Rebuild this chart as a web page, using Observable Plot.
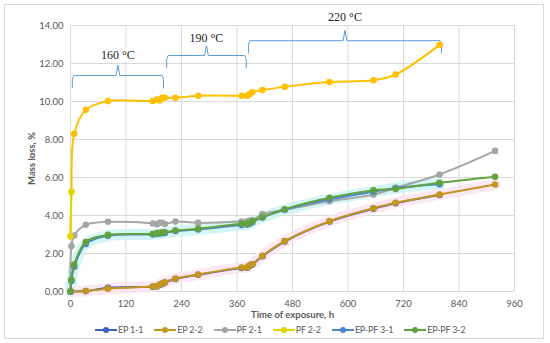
<!DOCTYPE html>
<html>
<head>
<meta charset="utf-8">
<script src="https://cdn.jsdelivr.net/npm/d3@7"></script>
<script src="https://cdn.jsdelivr.net/npm/@observablehq/plot@0.6"></script>
<style>
  body { margin: 0; background: #fff; }
  #wrap { position: relative; width: 550px; height: 343px; font-family: Lato, "Open Sans", sans-serif; }
  #border { position: absolute; left: 4px; top: 4px; width: 540px; height: 335px; border: 1px solid #d9d9d9; box-sizing: border-box; }
  #chart { position: absolute; left: 0; top: 0; }
  #legend { position: absolute; left: 95px; top: 324px; display: flex; font-family: Lato, sans-serif; font-size: 9px; letter-spacing: -0.2px; color: #595959; white-space: nowrap; }
  .li { display: flex; align-items: center; margin-right: 11px; }
  .li svg { margin-right: 1px; }
  svg [aria-label="x-axis label"] text, svg [aria-label="y-axis label"] text { font-weight: bold; }
</style>
</head>
<body>
<div id="wrap">
  <div id="border"></div>
  <div id="chart"></div>
  <div id="legend"></div>
</div>
<script>
// ---- data ----
const times   = [0, 2, 8, 33, 81, 178, 187, 193, 198, 204, 227, 276, 370, 382, 387, 393, 415, 463, 560, 655, 703, 798, 918];
const ep11    = [0, null, null, 0.02, 0.20, 0.25, 0.27, 0.35, 0.40, 0.47, 0.66, 0.88, 1.24, 1.25, 1.35, 1.42, 1.86, 2.63, 3.68, 4.36, 4.65, 5.08, null];
const ep22    = [0, null, null, 0.03, 0.15, 0.26, 0.28, 0.37, 0.42, 0.49, 0.68, 0.89, 1.26, 1.26, 1.37, 1.44, 1.88, 2.65, 3.70, 4.38, 4.67, 5.10, 5.63];
const pf21    = [0, 2.38, 2.95, 3.51, 3.67, 3.58, 3.54, 3.62, 3.61, 3.55, 3.68, 3.61, 3.68, 3.70, 3.72, 3.75, 4.07, 4.30, 4.75, 5.10, 5.46, 6.16, 7.40];
const pf22    = [2.90, 5.25, 8.30, 9.56, 10.02, 10.03, 10.10, 10.05, 10.20, 10.20, 10.20, 10.30, 10.30, 10.30, 10.38, 10.49, 10.60, 10.77, 11.02, 11.12, 11.42, 12.98, null];
const eppf31  = [0, 0.55, 1.30, 2.50, 2.93, 3.00, 3.03, 3.05, 3.07, 3.08, 3.18, 3.26, 3.50, 3.52, 3.56, 3.65, 3.90, 4.30, 4.85, 5.25, 5.45, 5.64, null];
const eppf32  = [0, 0.61, 1.42, 2.60, 2.98, 3.03, 3.07, 3.09, 3.10, 3.12, 3.21, 3.30, 3.56, 3.56, 3.61, 3.70, 3.91, 4.33, 4.93, 5.32, 5.40, 5.72, 6.04];

const seriesNames  = ["EP 1-1", "EP 2-2", "PF 2-1", "PF 2-2", "EP-PF 3-1", "EP-PF 3-2"];
const seriesValues = [ep11, ep22, pf21, pf22, eppf31, eppf32];
const seriesColors = ["#3a62c0", "#c4961e", "#a5a5a5", "#ffc000", "#4a86d8", "#62a23e"];
const legendColors = ["#3a62c0", "#c4961e", "#a5a5a5", "#e3d400", "#4a86d8", "#62a23e"];

const xTicks = [0, 120, 240, 360, 480, 600, 720, 840, 960];
const yTicks = [0, 2, 4, 6, 8, 10, 12, 14];

const bracketLabels = ["160 °C", "190 °C", "220 °C"];
const bracketStart  = [4, 208, 385];
const bracketEnd    = [201, 380, 802];
const bracketLevel  = [11.37, 12.42, 13.2];
const bracketLabelY = [12.42, 13.32, 14.42];

// ---- build ----
const rows = (vals, name) => times.map((t, i) => ({t, v: vals[i], s: name})).filter(d => d.v != null);
const series = seriesNames.map((n, i) => rows(seriesValues[i], n));

const braces = bracketLabels.map((lab, i) => {
  const a = bracketStart[i], b = bracketEnd[i], L = bracketLevel[i], m = (a + b) / 2;
  return [[a, L - 0.65], [a, L - 0.2], [a + 3, L], [m - 4, L], [m, L + 0.55], [m + 4, L], [b - 3, L], [b, L - 0.2], [b, L - 0.65]]
    .map(([t, v]) => ({t, v, k: lab}));
}).flat();
const braceText = bracketLabels.map((lab, i) => ({t: (bracketStart[i] + bracketEnd[i]) / 2, v: bracketLabelY[i], lab}));

const marks = [
  Plot.gridY(yTicks, {stroke: "#d9d9d9", strokeOpacity: 1}),
  Plot.gridX(xTicks, {stroke: "#d9d9d9", strokeOpacity: 1}),
  // soft glows
  Plot.line(series[4], {x: "t", y: "v", stroke: "#c9f3f5", strokeWidth: 11, curve: "catmull-rom", strokeOpacity: 0.8}),
  Plot.line(series[1], {x: "t", y: "v", stroke: "#fbe1f1", strokeWidth: 11, curve: "catmull-rom", strokeOpacity: 0.8}),
  Plot.line(braces, {x: "t", y: "v", z: "k", stroke: "#5b9bd5", strokeWidth: 1}),
  Plot.text(braceText, {x: "t", y: "v", text: "lab", fontFamily: "Liberation Serif", fontSize: 12, fill: "#222", stroke: "white", strokeWidth: 8})
];
series.forEach((d, i) => {
  marks.push(Plot.line(d, {x: "t", y: "v", stroke: seriesColors[i], strokeWidth: 2, curve: "catmull-rom"}));
  if (i === 3) marks.push(Plot.line(d.slice(0, 2), {x: "t", y: "v", stroke: legendColors[3], strokeWidth: 2}));
  marks.push(Plot.dot(d, {x: "t", y: "v", r: 3.3, fill: i === 3 ? (p => p.v < 6 ? legendColors[3] : seriesColors[3]) : seriesColors[i]}));
});
marks.push(
  Plot.axisX(xTicks, {tickSize: 0, tickPadding: 9, fontSize: 9.5, label: "Time of exposure, h", labelAnchor: "center", labelArrow: "none", labelOffset: 26}),
  Plot.axisY(yTicks, {tickSize: 0, tickPadding: 7, fontSize: 9.5, tickFormat: d3.format(".2f"), label: "Mass loss, %", labelAnchor: "center", labelArrow: "none", labelOffset: 42})
);

const chart = Plot.plot({
  width: 550, height: 320,
  marginLeft: 70, marginRight: 36, marginTop: 25, marginBottom: 29,
  x: {domain: [0, 960]},
  y: {domain: [0, 14]},
  style: {fontFamily: "Lato, 'Open Sans', sans-serif", color: "#595959", background: "transparent", fontSize: "10px"},
  marks
});
document.getElementById("chart").appendChild(chart);

const leg = document.getElementById("legend");
seriesNames.forEach((n, i) => {
  const el = document.createElement("div");
  el.className = "li";
  el.innerHTML = `<svg width="22" height="10"><line x1="0" y1="5" x2="22" y2="5" stroke="${legendColors[i]}" stroke-width="2"/><circle cx="11" cy="5" r="3" fill="${legendColors[i]}"/></svg><span>${n}</span>`;
  leg.appendChild(el);
});
</script>
</body>
</html>
